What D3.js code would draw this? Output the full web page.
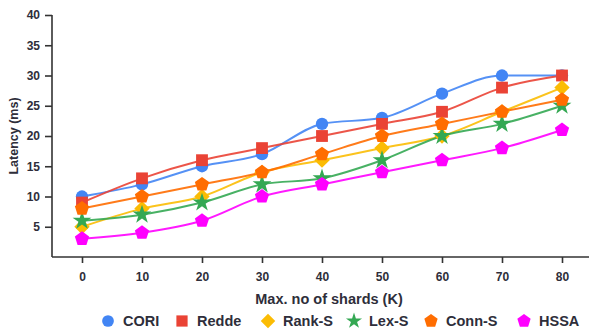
<!DOCTYPE html>
<html>
<head>
<meta charset="utf-8">
<script src="https://cdn.jsdelivr.net/npm/d3@7"></script>
<style>
  body { margin: 0; background: #fff; }
  text { font-family: "Liberation Sans", Arial, sans-serif; font-weight: bold; fill: #2e2e3a; }
</style>
</head>
<body>
<div class="vis-chart"></div>
<script>
const shards = [0, 10, 20, 30, 40, 50, 60, 70, 80];
const cori  = [10, 12, 15, 17, 22, 23, 27, 30, 30];
const redde = [9, 13, 16, 18, 20, 22, 24, 28, 30];
const rankS = [5, 8, 10, 14, 16, 18, 20, 24, 28];
const lexS  = [6, 7, 9, 12, 13, 16, 20, 22, 25];
const connS = [8, 10, 12, 14, 17, 20, 22, 24, 26];
const hssa  = [3, 4, 6, 10, 12, 14, 16, 18, 21];
const yTicks = [5, 10, 15, 20, 25, 30, 35, 40];
const seriesNames = ["CORI", "Redde", "Rank-S", "Lex-S", "Conn-S", "HSSA"];

const series = [
  {name: seriesNames[0], values: cori,  color: "#4285f4", shape: d3.symbolCircle,   size: 120},
  {name: seriesNames[1], values: redde, color: "#ea4335", shape: d3.symbolSquare,   size: 140},
  {name: seriesNames[2], values: rankS, color: "#fbbc04", shape: d3.symbolDiamond2, size: 150},
  {name: seriesNames[3], values: lexS,  color: "#34a853", shape: d3.symbolStar,     size: 110},
  {name: seriesNames[4], values: connS, color: "#ff6d01", shape: "pentagon",        size: 7.5},
  {name: seriesNames[5], values: hssa,  color: "#ff00ff", shape: "pentagon",        size: 7.5}
];

const W = 589, H = 334;
const svg = d3.select(".vis-chart").append("svg")
  .attr("width", W).attr("height", H);

const x = d3.scaleLinear().domain([-5, 84.5]).range([52, 589]);
const y = d3.scaleLinear().domain([0, 40]).range([257, 15]);

function pentagon(r) {
  const pts = d3.range(5).map(i => {
    const a = -Math.PI / 2 + i * 2 * Math.PI / 5;
    return [r * Math.cos(a), r * Math.sin(a)];
  });
  return "M" + pts.map(p => p.join(",")).join("L") + "Z";
}
function markPath(s) {
  if (s.shape === "pentagon") return pentagon(s.size);
  return d3.symbol().type(s.shape).size(s.size)();
}

// axes
const yAxis = svg.append("g")
  .attr("transform", "translate(52,0)")
  .call(d3.axisLeft(y).tickValues(yTicks).tickSize(7).tickPadding(5));
const xAxis = svg.append("g")
  .attr("transform", "translate(0,257)")
  .call(d3.axisBottom(x).tickValues(shards).tickSize(6).tickPadding(9));
[yAxis, xAxis].forEach(a => {
  a.selectAll("path, line").attr("stroke", "#333").attr("stroke-width", 1.6);
  a.selectAll("text").attr("font-size", 12).attr("fill", "#2e2e3a")
    .style("font-family", "'Liberation Sans', Arial, sans-serif").style("font-weight", "bold");
});
yAxis.select(".domain").attr("d", "M0,15V257");
xAxis.select(".domain").attr("d", "M52,0H589");

svg.append("text")
  .attr("transform", "translate(18,136) rotate(-90)")
  .attr("text-anchor", "middle")
  .attr("font-size", 12.5)
  .text("Latency (ms)");

svg.append("text")
  .attr("x", 329).attr("y", 304)
  .attr("text-anchor", "middle")
  .attr("font-size", 14.5)
  .text("Max. no of shards (K)");

// lines
const line = d3.line()
  .x((d, i) => x(shards[i]))
  .y(d => y(d))
  .curve(d3.curveMonotoneX);

const g = svg.append("g");
series.forEach(s => {
  g.append("path")
    .attr("d", line(s.values))
    .attr("fill", "none")
    .attr("stroke", s.color)
    .attr("stroke-width", 2)
    .attr("stroke-opacity", 0.9);
});
series.forEach(s => {
  g.selectAll(null).data(s.values).enter().append("path")
    .attr("transform", (d, i) => "translate(" + x(shards[i]) + "," + y(d) + ")")
    .attr("d", markPath(s))
    .attr("fill", s.color);
});

// legend
const legendX = [108, 182, 268, 354, 431, 524];
const leg = svg.append("g").attr("transform", "translate(0,321)");
series.forEach((s, i) => {
  const item = leg.append("g").attr("transform", "translate(" + legendX[i] + ",0)");
  const small = Object.assign({}, s, {size: s.shape === "pentagon" ? 7 : s.size * 0.9});
  if (s.shape === d3.symbolStar) small.size = 80;
  item.append("path").attr("d", markPath(small)).attr("fill", s.color);
  item.append("text")
    .attr("x", 15).attr("y", 5)
    .attr("font-size", 14.5)
    .text(s.name);
});
</script>
</body>
</html>
